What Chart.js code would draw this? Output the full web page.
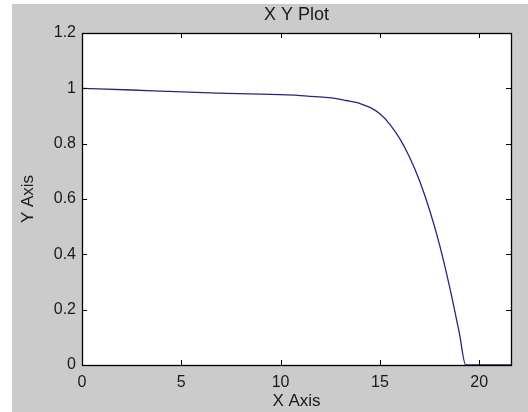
<!DOCTYPE html>
<html>
<head>
<meta charset="utf-8">
<script src="https://cdn.jsdelivr.net/npm/chart.js@4/dist/chart.umd.min.js"></script>
<style>
  body { margin: 0; background: #ffffff; }
  #wrap { width: 528px; height: 412px; }
</style>
</head>
<body>
<div id="wrap"><canvas id="xyChart" width="528" height="412"></canvas></div>
<script>
// values
const xValues = [0, 2.5, 4.7, 6.8, 9.0, 11.0, 12.1, 12.8, 13.3, 13.8, 14.0, 14.5, 15.0, 15.5, 16.0, 16.5, 17.0, 17.5, 18.0, 18.5, 19.0, 19.32, 21.6];
const yValues = [1.0, 0.994, 0.988, 0.983, 0.979, 0.974, 0.968, 0.963, 0.956, 0.949, 0.945, 0.931, 0.908, 0.870, 0.818, 0.750, 0.665, 0.560, 0.435, 0.285, 0.115, 0.0, 0.0];
const xTicks = [0, 5, 10, 15, 20];
const yTicks = [0, 0.2, 0.4, 0.6, 0.8, 1, 1.2];
const yTickLabels = ['0', '0.2', '0.4', '0.6', '0.8', '1', '1.2'];

const FONT = 'Arial, "Liberation Sans", sans-serif';

// gray figure background, white axes box, inward ticks like MATLAB
const matlabFrame = {
    id: 'matlabFrame',
    beforeDraw(chart) {
        const ctx = chart.ctx;
        const a = chart.chartArea;
        ctx.save();
        ctx.fillStyle = '#cbcbcb';
        ctx.fillRect(12, 4, chart.width - 12, chart.height - 4);
        ctx.fillStyle = '#ffffff';
        ctx.fillRect(a.left, a.top, a.right - a.left, a.bottom - a.top);
        ctx.restore();
    },
    afterDraw(chart) {
        const ctx = chart.ctx;
        const a = chart.chartArea;
        const xs = chart.scales.x;
        const ys = chart.scales.y;
        const len = 5;
        ctx.save();
        ctx.strokeStyle = '#000000';
        ctx.lineWidth = 1;
        ctx.beginPath();
        xTicks.forEach(v => {
            const px = Math.round(xs.getPixelForValue(v)) + 0.5;
            ctx.moveTo(px, a.bottom);
            ctx.lineTo(px, a.bottom - len);
            ctx.moveTo(px, a.top);
            ctx.lineTo(px, a.top + len);
        });
        yTicks.forEach(v => {
            const py = Math.round(ys.getPixelForValue(v)) + 0.5;
            ctx.moveTo(a.left, py);
            ctx.lineTo(a.left + len, py);
            ctx.moveTo(a.right, py);
            ctx.lineTo(a.right - len, py);
        });
        ctx.stroke();
        ctx.lineWidth = 1.3;
        ctx.strokeRect(Math.round(a.left) + 0.5, Math.round(a.top) + 0.5,
            Math.round(a.right - a.left), Math.round(a.bottom - a.top));
        ctx.restore();
    }
};

new Chart(document.getElementById('xyChart'), {
    type: 'scatter',
    data: {
        datasets: [{
            data: xValues.map((x, i) => ({ x: x, y: yValues[i] })),
            showLine: true,
            borderColor: '#26267f',
            borderWidth: 1.3,
            pointRadius: 0,
            cubicInterpolationMode: 'monotone',
            clip: false
        }]
    },
    options: {
        responsive: false,
        animation: false,
        layout: { padding: { left: 0, right: 17, top: 0, bottom: 0 } },
        scales: {
            x: {
                type: 'linear',
                min: 0,
                max: 21.6,
                afterBuildTicks: scale => { scale.ticks = xTicks.map(v => ({ value: v })); },
                afterFit: scale => { scale.height = 47; },
                grid: { display: false, drawTicks: false },
                border: { display: false },
                ticks: {
                    color: '#1a1a1a',
                    padding: 8,
                    maxRotation: 0,
                    font: { family: FONT, size: 16 }
                },
                title: {
                    display: true,
                    text: 'X Axis',
                    color: '#1a1a1a',
                    padding: { top: 0, bottom: 0 },
                    font: { family: FONT, size: 17 }
                }
            },
            y: {
                type: 'linear',
                min: 0,
                max: 1.2,
                afterBuildTicks: scale => { scale.ticks = yTicks.map(v => ({ value: v })); },
                afterFit: scale => { scale.width = 82; },
                grid: { display: false, drawTicks: false },
                border: { display: false },
                ticks: {
                    color: '#1a1a1a',
                    padding: 6,
                    font: { family: FONT, size: 16 },
                    callback: (value, index) => yTickLabels[index]
                },
                title: {
                    display: true,
                    text: 'Y Axis',
                    color: '#1a1a1a',
                    padding: { top: 18, bottom: 0 },
                    font: { family: FONT, size: 17 }
                }
            }
        },
        plugins: {
            legend: { display: false },
            tooltip: { enabled: false },
            title: {
                display: true,
                text: 'X Y Plot',
                fullSize: false,
                color: '#1a1a1a',
                padding: { top: 4, bottom: 7.4 },
                font: { family: FONT, size: 18, weight: 'normal' }
            }
        }
    },
    plugins: [matlabFrame]
});
</script>
</body>
</html>
